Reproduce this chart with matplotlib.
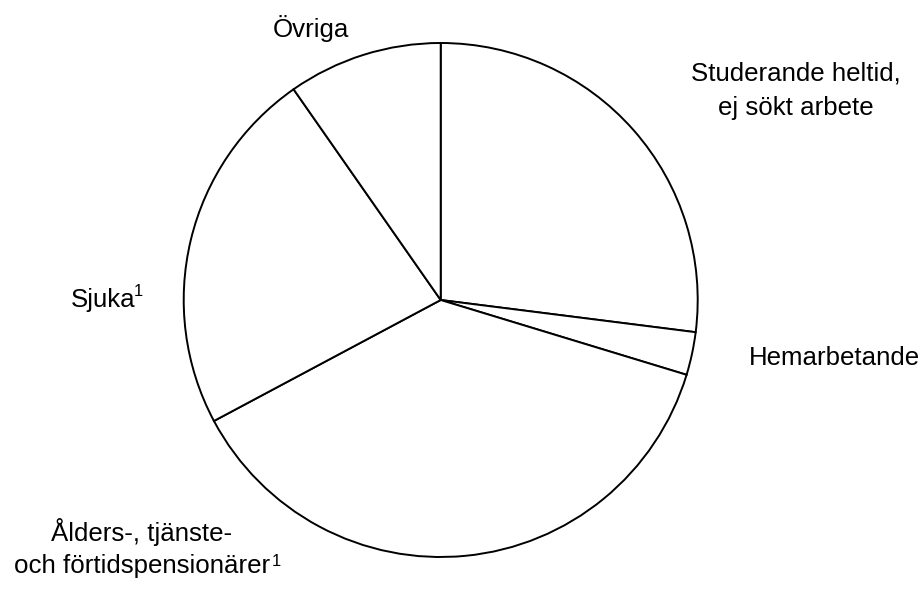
import matplotlib
matplotlib.use("Agg")
import matplotlib.pyplot as plt

categories = ["Studerande heltid, ej sökt arbete", "Hemarbetande",
              "Ålders-, tjänste- och förtidspensionärer", "Sjuka", "Övriga"]
values = [27.0, 2.7, 37.5, 23.1, 9.7]

W, H = 923, 590
plt.rcParams['font.family'] = ['Liberation Sans', 'DejaVu Sans']
fig = plt.figure(figsize=(W / 100, H / 100), dpi=100)
ax = fig.add_axes([0, 0, 1, 1])

cx, cy, r = 440.7, H - 300.0, 257.0
ax.pie(values, startangle=90, counterclock=False, colors=['white'] * len(values),
       center=(cx, cy), radius=r,
       wedgeprops=dict(edgecolor='black', linewidth=1.4))
ax.set_xlim(0, W)
ax.set_ylim(0, H)
ax.set_aspect('equal')
ax.axis('off')

fs = 18.6
sup = 12

def t(x, y, s, ha='center', size=fs):
    ax.text(x, H - y, s, ha=ha, va='baseline', fontsize=size, color='black')

t(311, 37, "Övriga")
t(796, 80, "Studerande heltid,")
t(796, 115, "ej sökt arbete")
t(834, 365, "Hemarbetande")
t(70.5, 306.5, "Sjuka", ha='left')
t(133.5, 295.5, "1", ha='left', size=sup)
t(142, 541.5, "Ålders-, tjänste-")
t(142, 573.5, "och förtidspensionärer")
t(272, 566, "1", ha='left', size=sup)

fig.savefig("out.png", dpi=100)
